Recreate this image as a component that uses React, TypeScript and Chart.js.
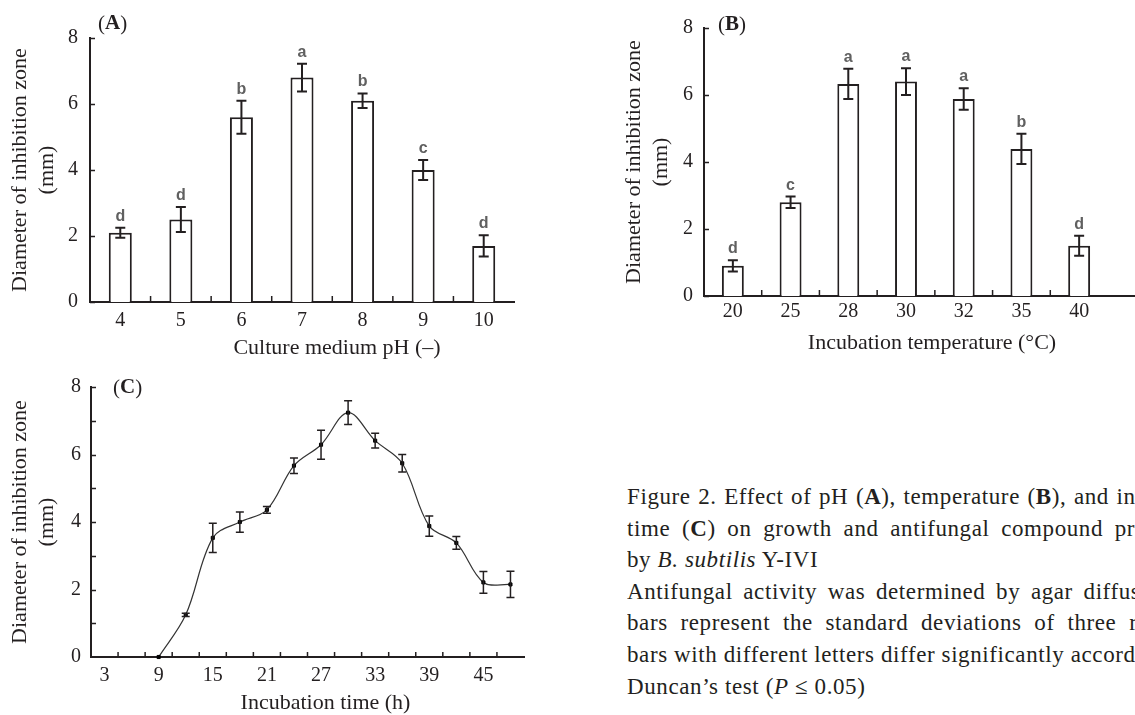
import React, { useEffect, useRef } from 'react';
import { Chart, registerables } from 'chart.js';

Chart.register(...registerables);

// ---------- data ----------
const phLabels = ['4', '5', '6', '7', '8', '9', '10'];
const phMeans = [2.1, 2.5, 5.6, 6.8, 6.1, 4.0, 1.7];
const phErrors = [0.15, 0.38, 0.5, 0.42, 0.22, 0.3, 0.32];
const phLetters = ['d', 'd', 'b', 'a', 'b', 'c', 'd'];

const tempLabels = ['20', '25', '28', '30', '32', '35', '40'];
const tempMeans = [0.9, 2.8, 6.33, 6.4, 5.88, 4.39, 1.5];
const tempErrors = [0.17, 0.17, 0.45, 0.4, 0.32, 0.45, 0.3];
const tempLetters = ['d', 'c', 'a', 'a', 'a', 'b', 'd'];

const timeHours = [9, 12, 15, 18, 21, 24, 27, 30, 33, 36, 39, 42, 45, 48];
const timeMeans = [0, 1.25, 3.53, 4.0, 4.36, 5.67, 6.29, 7.24, 6.41, 5.74, 3.88, 3.38, 2.21, 2.15];
const timeErrors = [0, 0.05, 0.43, 0.3, 0.1, 0.23, 0.43, 0.35, 0.22, 0.26, 0.3, 0.19, 0.32, 0.39];
const timeTickLabels = [3, 9, 15, 21, 27, 33, 39, 45];
const timeCategoryBounds = [4.5, 7.5, 10.5, 13.5, 16.5, 19.5, 22.5, 25.5, 28.5, 31.5, 34.5, 37.5, 40.5, 43.5, 46.5];
const timeAxisMin = 1.5;
const timeAxisMax = 49.5;

const yMajorTicks = [0, 2, 4, 6, 8];
const yMinorTicks = [1, 2, 3, 4, 5, 6, 7, 8];

const yTitle = ['Diameter of inhibition zone', '(mm)'];
const phTitle = 'Culture medium pH (–)';
const tempTitle = 'Incubation temperature (°C)';
const timeTitle = 'Incubation time (h)';

// ---------- style ----------
const INK = '#231f20';
const SERIF = '"Liberation Serif", "Times New Roman", serif';
const tickFont = { family: SERIF, size: 20 };
const titleFont = { family: SERIF, size: 22, lineHeight: 27 / 22 };

type DecorCfg = {
  id: string;
  mode: 'bar' | 'line';
  means: number[];
  errors: number[];
  xs?: number[];
  letters?: string[];
  panel: string;
  panelPos: [number, number];
  xTitle: string;
  xTitleShift: number;
  xTitleDrop: number;
  yTicks: number[];
  xTickValues?: number[];
  extendAxis?: boolean;
  capHalf: number;
  errWidth: number;
};

function makeDecor(cfg: DecorCfg) {
  return {
    id: cfg.id,
    afterDatasetsDraw(chart: any) {
      const { ctx } = chart;
      const xs = chart.scales.x;
      const ys = chart.scales.y;
      ctx.save();
      ctx.strokeStyle = INK;
      ctx.lineWidth = cfg.errWidth;
      cfg.means.forEach((m, i) => {
        const e = cfg.errors[i];
        const x = cfg.mode === 'bar' ? xs.getPixelForValue(i) : xs.getPixelForValue(cfg.xs![i]);
        const yt = ys.getPixelForValue(m + e);
        const yb = ys.getPixelForValue(m - e);
        if (e > 0.02) {
          ctx.beginPath();
          ctx.moveTo(x, yt);
          ctx.lineTo(x, yb);
          ctx.moveTo(x - cfg.capHalf, yt);
          ctx.lineTo(x + cfg.capHalf, yt);
          ctx.moveTo(x - cfg.capHalf, yb);
          ctx.lineTo(x + cfg.capHalf, yb);
          ctx.stroke();
        }
        if (cfg.letters) {
          ctx.fillStyle = '#606060';
          ctx.font = 'bold 16px "Liberation Sans", Arial, sans-serif';
          ctx.textAlign = 'center';
          ctx.textBaseline = 'alphabetic';
          ctx.fillText(cfg.letters[i], x, yt - 7);
        }
      });
      ctx.restore();
    },
    afterDraw(chart: any) {
      const { ctx, chartArea } = chart;
      const xs = chart.scales.x;
      const ys = chart.scales.y;
      ctx.save();
      ctx.strokeStyle = INK;
      ctx.lineWidth = 1.5;
      ctx.beginPath();
      // inward y ticks
      cfg.yTicks.forEach((v) => {
        const y = Math.round(ys.getPixelForValue(v)) + 0.5;
        ctx.moveTo(chartArea.left, y);
        ctx.lineTo(chartArea.left + 5, y);
      });
      // inward x ticks
      if (cfg.mode === 'bar') {
        for (let i = 0; i < cfg.means.length - 1; i++) {
          const x = (xs.getPixelForValue(i) + xs.getPixelForValue(i + 1)) / 2;
          ctx.moveTo(x, chartArea.bottom);
          ctx.lineTo(x, chartArea.bottom - 6);
        }
      } else if (cfg.xTickValues) {
        cfg.xTickValues.forEach((v) => {
          const x = xs.getPixelForValue(v);
          ctx.moveTo(x, chartArea.bottom);
          ctx.lineTo(x, chartArea.bottom - 5);
        });
      }
      ctx.stroke();
      if (cfg.extendAxis) {
        ctx.lineWidth = 2;
        ctx.beginPath();
        ctx.moveTo(chartArea.right, chartArea.bottom);
        ctx.lineTo(chart.width, chartArea.bottom);
        ctx.stroke();
      }
      // x-axis title
      ctx.fillStyle = INK;
      ctx.font = `22px ${SERIF}`;
      ctx.textAlign = 'center';
      ctx.textBaseline = 'middle';
      ctx.fillText(cfg.xTitle, (chartArea.left + chartArea.right) / 2 + cfg.xTitleShift, chartArea.bottom + cfg.xTitleDrop);
      // panel label
      const [px, py] = cfg.panelPos;
      ctx.textAlign = 'left';
      ctx.font = `21px ${SERIF}`;
      ctx.fillText('(', px, py);
      const w1 = ctx.measureText('(').width;
      ctx.font = `bold 21px ${SERIF}`;
      ctx.fillText(cfg.panel, px + w1, py);
      const w2 = ctx.measureText(cfg.panel).width;
      ctx.font = `21px ${SERIF}`;
      ctx.fillText(')', px + w1 + w2, py);
      ctx.restore();
    },
  };
}

function yAxis(width: number, titlePad: number, tickPad: number, step: number) {
  return {
    min: 0,
    max: 8,
    ticks: { stepSize: step, font: tickFont, color: INK, padding: tickPad },
    grid: { display: false, drawTicks: false },
    border: { color: INK, width: 2 },
    title: { display: true, text: yTitle, font: titleFont, color: INK, padding: { top: titlePad, bottom: 0 } },
    afterFit: (s: any) => {
      s.width = width;
    },
  };
}

function barConfig(labels: string[], means: number[], pad: any, yWidth: number, xHeight: number, xTickPad: number, titlePad: number, tickPad: number, decor: any) {
  return {
    type: 'bar',
    data: {
      labels,
      datasets: [
        {
          data: means,
          backgroundColor: '#ffffff',
          borderColor: INK,
          borderWidth: 2,
          barPercentage: 0.38,
          categoryPercentage: 1,
        },
      ],
    },
    options: {
      responsive: false,
      animation: false,
      layout: { padding: pad },
      plugins: { legend: { display: false }, tooltip: { enabled: false } },
      scales: {
        x: {
          grid: { display: false, drawTicks: false },
          border: { color: INK, width: 2 },
          ticks: { font: tickFont, color: INK, padding: xTickPad },
          afterFit: (s: any) => {
            s.height = xHeight;
          },
        },
        y: yAxis(yWidth, titlePad, tickPad, 2),
      },
    },
    plugins: [decor],
  };
}

function ChartCanvas({ config, left, top, width, height }: any) {
  const ref = useRef<HTMLCanvasElement | null>(null);
  useEffect(() => {
    if (!ref.current) return;
    const chart = new Chart(ref.current, config());
    return () => chart.destroy();
  }, []);
  return (
    <canvas
      ref={ref}
      width={width}
      height={height}
      style={{ position: 'absolute', left, top, width, height }}
    />
  );
}

const configA = () =>
  barConfig(
    phLabels,
    phMeans,
    { left: 0, top: 38, right: 11, bottom: 0 },
    90,
    60,
    7,
    6.5,
    12,
    makeDecor({
      id: 'decorA',
      mode: 'bar',
      means: phMeans,
      errors: phErrors,
      letters: phLetters,
      panel: 'A',
      panelPos: [98, 24],
      xTitle: phTitle,
      xTitleShift: 35,
      xTitleDrop: 46,
      yTicks: yMajorTicks,
      capHalf: 5,
      errWidth: 2,
    })
  );

const configB = () =>
  barConfig(
    tempLabels,
    tempMeans,
    { left: 0, top: 28, right: 27, bottom: 0 },
    114,
    64,
    4,
    30.5,
    11,
    makeDecor({
      id: 'decorB',
      mode: 'bar',
      means: tempMeans,
      errors: tempErrors,
      letters: tempLetters,
      panel: 'B',
      panelPos: [128, 25],
      xTitle: tempTitle,
      xTitleShift: 26,
      xTitleDrop: 47,
      yTicks: yMajorTicks,
      extendAxis: true,
      capHalf: 5,
      errWidth: 2,
    })
  );

const configC = () => ({
  type: 'line',
  data: {
    datasets: [
      {
        data: timeHours.map((h, i) => ({ x: h, y: timeMeans[i] })),
        borderColor: '#333',
        borderWidth: 1.2,
        tension: 0.35,
        pointStyle: 'rect',
        pointRadius: 2.2,
        pointBackgroundColor: '#000',
        pointBorderColor: '#000',
        pointBorderWidth: 1,
        clip: 4,
      },
    ],
  },
  options: {
    responsive: false,
    animation: false,
    layout: { padding: { left: 0, top: 21, right: 6, bottom: 0 } },
    plugins: { legend: { display: false }, tooltip: { enabled: false } },
    scales: {
      x: {
        type: 'linear',
        min: timeAxisMin,
        max: timeAxisMax,
        grid: { display: false, drawTicks: false },
        border: { color: INK, width: 2 },
        ticks: { font: tickFont, color: INK, padding: 7 },
        afterBuildTicks: (s: any) => {
          s.ticks = timeTickLabels.map((v) => ({ value: v }));
        },
        afterFit: (s: any) => {
          s.height = 58;
        },
      },
      y: yAxis(91, 6.5, 10, 2),
    },
  },
  plugins: [
    makeDecor({
      id: 'decorC',
      mode: 'line',
      means: timeMeans,
      errors: timeErrors,
      xs: timeHours,
      panel: 'C',
      panelPos: [113, 23],
      xTitle: timeTitle,
      xTitleShift: 18,
      xTitleDrop: 46,
      yTicks: yMinorTicks,
      xTickValues: timeCategoryBounds,
      capHalf: 4,
      errWidth: 1.5,
    }),
  ],
});

const captionLine: React.CSSProperties = { whiteSpace: 'nowrap', height: 31.6, lineHeight: '31.6px' };

export default function App() {
  return (
    <div
      style={{
        position: 'fixed',
        left: 0,
        top: 0,
        width: 1135,
        height: 715,
        overflow: 'hidden',
        background: '#ffffff',
      }}
    >
      <ChartCanvas config={configA} left={0} top={0} width={525} height={362} />
      <ChartCanvas config={configB} left={590} top={0} width={545} height={360} />
      <ChartCanvas config={configC} left={0} top={365} width={530} height={350} />
      <div
        style={{
          position: 'absolute',
          left: 627,
          top: 481,
          width: 508,
          overflow: 'hidden',
          fontFamily: SERIF,
          fontSize: 23,
          letterSpacing: 0.6,
          color: INK,
        }}
      >
        <div style={{ ...captionLine, wordSpacing: 1.2 }}>
          Figure 2. Effect of pH (<b>A</b>), temperature (<b>B</b>), and incubation
        </div>
        <div style={{ ...captionLine, wordSpacing: 5.3 }}>
          time (<b>C</b>) on growth and antifungal compound production
        </div>
        <div style={captionLine}>
          by <i>B. subtilis</i> Y-IVI
        </div>
        <div style={{ ...captionLine, wordSpacing: 4.3 }}>
          Antifungal activity was determined by agar diffusion method. Error
        </div>
        <div style={{ ...captionLine, wordSpacing: 6.4 }}>
          bars represent the standard deviations of three replicates;
        </div>
        <div style={captionLine}>
          bars with different letters differ significantly according to
        </div>
        <div style={captionLine}>
          Duncan’s test (<i>P</i> ≤ 0.05)
        </div>
      </div>
    </div>
  );
}
